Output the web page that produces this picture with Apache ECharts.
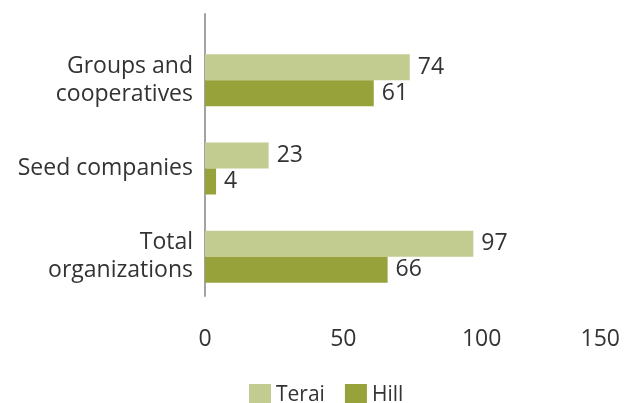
<!DOCTYPE html>
<html>
<head>
<meta charset="utf-8">
<script src="https://cdn.jsdelivr.net/npm/echarts@6/dist/echarts.min.js"></script>
<style>
  html, body { margin: 0; padding: 0; background: #fff; }
  #chart { width: 634px; height: 403px; }
</style>
</head>
<body>
<div id="chart"></div>
<script>
// Organizations by region
const categories = ['Groups and\ncooperatives', 'Seed companies', 'Total\norganizations'];
const teraiValues = [74, 23, 97];
const hillValues = [61, 4, 66];
const xTicks = [0, 50, 100, 150];

const FONT = '"Open Sans"';
const TEXT = '#333333';
const SIZE = 23;

const chart = echarts.init(document.getElementById('chart'), null, { renderer: 'canvas' });

function barSeries(name, data, color) {
  return {
    name: name,
    type: 'bar',
    data: data,
    barWidth: 26,
    barGap: '0%',
    itemStyle: { color: color },
    label: {
      show: true,
      position: 'right',
      distance: 8,
      color: TEXT,
      fontFamily: FONT,
      fontSize: SIZE
    }
  };
}

chart.setOption({
  animation: false,
  textStyle: { fontFamily: FONT },
  grid: [
    { left: 205, right: 14, top: 36, bottom: 102 },
    // taller frame that only carries the vertical baseline
    { left: 205, right: 14, top: 14, bottom: 107 }
  ],
  legend: {
    top: 379,
    left: 244,
    itemWidth: 22,
    itemHeight: 22,
    itemGap: 20,
    icon: 'rect',
    textStyle: { color: TEXT, fontFamily: FONT, fontSize: 21 },
    data: ['Terai', 'Hill']
  },
  xAxis: [
    {
      type: 'value',
      gridIndex: 0,
      min: xTicks[0],
      max: xTicks[xTicks.length - 1],
      interval: xTicks[1] - xTicks[0],
      axisLine: { show: false },
      axisTick: { show: false },
      splitLine: { show: false },
      axisLabel: {
        margin: 27,
        color: TEXT,
        fontFamily: FONT,
        fontSize: SIZE,
        alignMaxLabel: 'right'
      }
    },
    { type: 'value', gridIndex: 1, show: false }
  ],
  yAxis: [
    {
      type: 'category',
      gridIndex: 0,
      inverse: true,
      data: categories,
      axisLine: { show: false },
      axisTick: { show: false },
      axisLabel: {
        margin: 12,
        color: TEXT,
        fontFamily: FONT,
        fontSize: SIZE,
        lineHeight: 28,
        align: 'right'
      }
    },
    {
      type: 'value',
      gridIndex: 1,
      min: 0,
      max: 1,
      axisLine: { show: true, lineStyle: { color: '#a3a3a3', width: 2 } },
      axisTick: { show: false },
      axisLabel: { show: false },
      splitLine: { show: false }
    }
  ],
  series: [
    barSeries('Terai', teraiValues, '#c2cb90'),
    barSeries('Hill', hillValues, '#98a23b')
  ]
});
</script>
</body>
</html>
